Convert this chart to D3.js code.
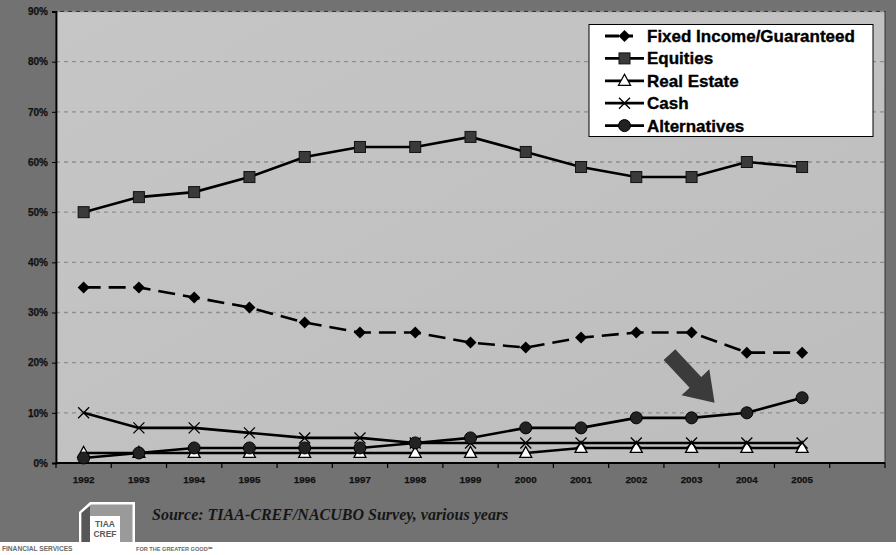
<!DOCTYPE html>
<html>
<head>
<meta charset="utf-8">
<script src="https://cdn.jsdelivr.net/npm/d3@7/dist/d3.min.js"></script>
<style>
  html, body { margin: 0; padding: 0; background: #ffffff; }
  svg { display: block; }
</style>
</head>
<body>
<svg id="chart" width="896" height="555"></svg>
<script>
// Endowment asset allocation, 1992–2005
const years = ["1992","1993","1994","1995","1996","1997","1998","1999","2000","2001","2002","2003","2004","2005"];
const fixedIncome = [35,35,33,31,28,26,26,24,23,25,26,26,22,22];
const equities    = [50,53,54,57,61,63,63,65,62,59,57,57,60,59];
const realEstate  = [2,2,2,2,2,2,2,2,2,3,3,3,3,3];
const cash        = [10,7,7,6,5,5,4,4,4,4,4,4,4,4];
const alternatives= [1,2,3,3,3,3,4,5,7,7,9,9,10,13];
const yTicks = [0,10,20,30,40,50,60,70,80,90];

const seriesNames = ["Fixed Income/Guaranteed","Equities","Real Estate","Cash","Alternatives"];
const seriesValues = [fixedIncome, equities, realEstate, cash, alternatives];
const seriesMarker = ["diamond","square","triangle","cross","circle"];
const seriesDash = ["17,8", null, null, null, null];

(function () {
const svg = d3.select("#chart");
const sans = "Liberation Sans, Arial, sans-serif";

// page backdrop
svg.append("rect").attr("x",0).attr("y",0).attr("width",896).attr("height",542).attr("fill","#727272");

// plot geometry
const pLeft = 56, pRight = 885, pTop = 11.5, pBottom = 463;
const x = d3.scaleBand().domain(years.concat(["_"])).range([pLeft, pRight]).paddingInner(0).paddingOuter(0);
const y = d3.scaleLinear().domain([0, 90]).range([pBottom, pTop]);
const cx = d => x(d) + x.bandwidth() / 2;

// plot area with a faint diagonal shading
const defs = svg.append("defs");
const grad = defs.append("linearGradient").attr("id","plotBg")
  .attr("x1","0").attr("y1","0").attr("x2","1").attr("y2","1");
grad.append("stop").attr("offset","0").attr("stop-color","#c6c6c6");
grad.append("stop").attr("offset","1").attr("stop-color","#bdbdbd");
svg.append("rect").attr("x",pLeft).attr("y",pTop).attr("width",pRight-pLeft).attr("height",pBottom-pTop)
  .attr("fill","url(#plotBg)").attr("stroke","#333").attr("stroke-width",1);

// dashed horizontal gridlines
svg.append("g").selectAll("line").data(yTicks.filter(t => t > 0)).join("line")
  .attr("x1", pLeft).attr("x2", pRight)
  .attr("y1", d => y(d)).attr("y2", d => y(d))
  .attr("stroke","#8e8e8e").attr("stroke-width",1.3).attr("stroke-dasharray","4,4");

// y axis
const yAxis = d3.axisLeft(y).tickValues(yTicks).tickFormat(d => d + "%").tickSize(4).tickPadding(4);
const gy = svg.append("g").attr("transform", `translate(${pLeft},0)`).call(yAxis);
gy.select(".domain").attr("stroke","#000").attr("stroke-width",1.8);
gy.selectAll(".tick line").attr("stroke","#000");
gy.selectAll(".tick text").attr("font-family",sans)
  .attr("font-size","10px").attr("font-weight","bold").attr("fill","#111")
  .attr("stroke","#111").attr("stroke-width",0.25);

// x axis: ticks between categories
const gx = svg.append("g").attr("transform", `translate(0,${pBottom})`);
gx.append("line").attr("x1",pLeft).attr("x2",pRight).attr("y1",0).attr("y2",0)
  .attr("stroke","#000").attr("stroke-width",1.8);
const bounds = x.domain().map(d => x(d)).concat([pRight]);
gx.selectAll("line.tk").data(bounds).join("line").attr("class","tk")
  .attr("x1", d => d).attr("x2", d => d).attr("y1",0).attr("y2",5)
  .attr("stroke","#000").attr("stroke-width",1.2);
gx.selectAll("text").data(years).join("text")
  .attr("x", d => cx(d)).attr("y", 20)
  .attr("text-anchor","middle")
  .attr("font-family",sans)
  .attr("font-size","9.8px").attr("font-weight","bold").attr("fill","#111")
  .attr("stroke","#111").attr("stroke-width",0.25)
  .text(d => d);

// marker drawing
function drawMarker(g, type, px, py) {
  if (type === "diamond") {
    g.append("path").attr("d", `M${px},${py-6}L${px+6},${py}L${px},${py+6}L${px-6},${py}Z`)
      .attr("fill","#000");
  } else if (type === "square") {
    g.append("rect").attr("x",px-5.5).attr("y",py-5.5).attr("width",11).attr("height",11)
      .attr("fill","#3a3a3a").attr("stroke","#111").attr("stroke-width",1);
  } else if (type === "triangle") {
    g.append("path").attr("d", `M${px},${py-6.5}L${px+6},${py+4.5}L${px-6},${py+4.5}Z`)
      .attr("fill","#ffffff").attr("stroke","#000").attr("stroke-width",1.3);
  } else if (type === "cross") {
    g.append("path").attr("d", `M${px-5.5},${py-5.5}L${px+5.5},${py+5.5}M${px-5.5},${py+5.5}L${px+5.5},${py-5.5}`)
      .attr("stroke","#000").attr("stroke-width",1.3).attr("fill","none");
  } else if (type === "circle") {
    g.append("circle").attr("cx",px).attr("cy",py).attr("r",6)
      .attr("fill","#222").attr("stroke","#000").attr("stroke-width",1);
  }
}

// series lines and markers
const line = d3.line().x((d,i) => cx(years[i])).y(d => y(d));
const order = [2,3,4,0,1];
order.forEach(s => {
  const g = svg.append("g");
  g.append("path").datum(seriesValues[s]).attr("d", line)
    .attr("fill","none").attr("stroke","#000")
    .attr("stroke-width", 2.6)
    .attr("stroke-dasharray", seriesDash[s]);
  seriesValues[s].forEach((v,i) => drawMarker(g, seriesMarker[s], cx(years[i]), y(v)));
});

// arrow pointing at the rise in alternatives
{
  const tipX = cx("2003") + 23, tipY = y(12);
  const ang = Math.atan2(47, 44);
  const L = 66, head = 28, shaftW = 8, headW = 19;
  const ux = Math.cos(ang), uy = Math.sin(ang), nx = -uy, ny = ux;
  const bx = tipX - ux*head, by = tipY - uy*head;
  const tx = tipX - ux*L, ty = tipY - uy*L;
  const pts = [
    [tx + nx*shaftW, ty + ny*shaftW],
    [bx + nx*shaftW, by + ny*shaftW],
    [bx + nx*headW, by + ny*headW],
    [tipX, tipY],
    [bx - nx*headW, by - ny*headW],
    [bx - nx*shaftW, by - ny*shaftW],
    [tx - nx*shaftW, ty - ny*shaftW]
  ];
  svg.append("path").attr("d", "M" + pts.map(p => p.join(",")).join("L") + "Z")
    .attr("fill","#3b3b3b");
}

// legend
const lg = svg.append("g");
lg.append("rect").attr("x",589).attr("y",24.5).attr("width",284).attr("height",112)
  .attr("fill","#ffffff").attr("stroke","#000").attr("stroke-width",1);
seriesNames.forEach((name, i) => {
  const ry = 36 + i * 22.4;
  const g = lg.append("g");
  g.append("line").attr("x1",605).attr("x2",644).attr("y1",ry).attr("y2",ry)
    .attr("stroke","#000").attr("stroke-width",2.8)
    .attr("stroke-dasharray", seriesDash[i] ? "14,6,8" : null);
  drawMarker(g, seriesMarker[i], 624.5, ry);
  g.append("text").attr("x",647).attr("y",ry + 6)
    .attr("font-family",sans)
    .attr("font-size","17px").attr("font-weight","bold").attr("fill","#000")
    .attr("stroke","#000").attr("stroke-width",0.35)
    .text(name);
});

// source note
svg.append("text").attr("x",152).attr("y",520)
  .attr("font-family","Liberation Serif, Times New Roman, serif")
  .attr("font-size","16px").attr("font-weight","bold").attr("font-style","italic")
  .attr("fill","#161616")
  .text("Source: TIAA-CREF/NACUBO Survey, various years");

// TIAA-CREF logo block
{
  const lgo = svg.append("g");
  lgo.append("path").attr("d","M79,542L79,512L90,502L135,502L135,542Z")
    .attr("fill","#ffffff");
  lgo.append("path").attr("d","M81.5,542L81.5,513L91,504.5L132.5,504.5L132.5,542Z")
    .attr("fill","#9a9a9a");
  lgo.append("path").attr("d","M81.5,542L81.5,513L90,506L90,542Z").attr("fill","#575757");
  lgo.append("rect").attr("x",90).attr("y",516).attr("width",30).attr("height",26).attr("fill","#ffffff");
  lgo.append("text").attr("x",105).attr("y",527).attr("text-anchor","middle")
    .attr("font-family",sans).attr("font-size","8.5px")
    .attr("font-weight","bold").attr("fill","#5a5a5a").text("TIAA");
  lgo.append("text").attr("x",105).attr("y",537).attr("text-anchor","middle")
    .attr("font-family",sans).attr("font-size","8.5px")
    .attr("font-weight","bold").attr("fill","#5a5a5a").text("CREF");
  lgo.append("text").attr("x",2).attr("y",551)
    .attr("font-family",sans).attr("font-size","6.6px")
    .attr("font-weight","bold").attr("fill","#6a6a6a").text("FINANCIAL SERVICES");
  lgo.append("text").attr("x",136).attr("y",551)
    .attr("font-family",sans).attr("font-size","5.6px")
    .attr("font-weight","bold").attr("fill","#6a6a6a").text("FOR THE GREATER GOOD\u2120");
}
})();
</script>
</body>
</html>
